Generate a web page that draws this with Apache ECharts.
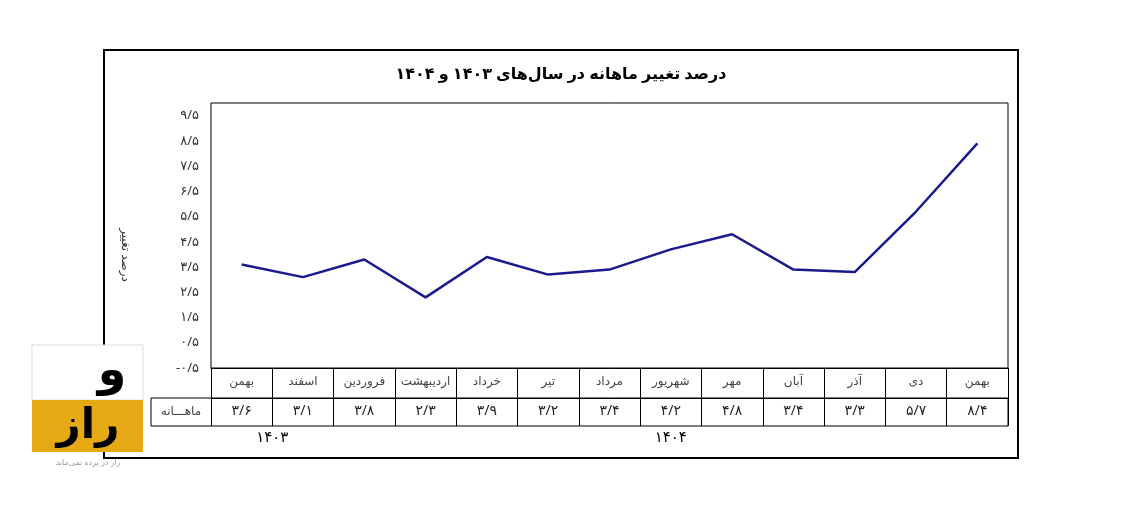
<!DOCTYPE html>
<html>
<head>
<meta charset="utf-8">
<script src="https://cdn.jsdelivr.net/npm/echarts@6/dist/echarts.min.js"></script>
<style>html,body{margin:0;padding:0;background:#fff}#chart{width:1131px;height:508px}</style>
</head>
<body>
<div id="chart"></div>
<script>
var months = ['بهمن', 'اسفند', 'فروردین', 'اردیبهشت', 'خرداد', 'تیر', 'مرداد', 'شهریور', 'مهر', 'آبان', 'آذر', 'دی', 'بهمن'];
var values = [3.6, 3.1, 3.8, 2.3, 3.9, 3.2, 3.4, 4.2, 4.8, 3.4, 3.3, 5.7, 8.4];
var years = [{ label: '۱۴۰۳', from: 0, to: 1 }, { label: '۱۴۰۴', from: 2, to: 12 }];

var fa = '۰۱۲۳۴۵۶۷۸۹';
function toFa(v) {
    return String(v).replace(/\d/g, function (d) { return fa[+d]; }).replace('.', '/');
}
function fmt(v) {
    var s = Math.abs(v).toFixed(1);
    return (v < 0 ? '-' : '') + toFa(s);
}

var chart = echarts.init(document.getElementById('chart'));
var font = '"Noto Sans", "DejaVu Sans", sans-serif';
var gl = 211, gr = 1008, cellW = (gr - gl) / months.length;

var yearTexts = years.map(function (y) {
    var cx = gl + cellW * (y.from + y.to + 1) / 2;
    return { type: 'text', x: cx, y: 438, style: { text: y.label, fontSize: 15, fontFamily: font, fill: '#000', align: 'center', verticalAlign: 'middle' } };
});

chart.setOption({
    animation: false,
    textStyle: { fontFamily: font },
    grid: { left: gl, right: 1131 - gr, top: 103, bottom: 508 - 368, show: true, borderColor: '#000', borderWidth: 1 },
    xAxis: [{
        type: 'category', data: months, position: 'bottom',
        axisLine: { onZero: false, lineStyle: { color: '#000', width: 1 } },
        axisTick: { show: true, interval: 0, length: 58, lineStyle: { color: '#000' } },
        axisLabel: { interval: 0, color: '#444', fontSize: 12, margin: 8 }
    }, {
        type: 'category', data: values.map(fmt), position: 'bottom', offset: 30,
        axisLine: { onZero: false, lineStyle: { color: '#000', width: 1 } },
        axisTick: { show: false },
        axisLabel: { interval: 0, color: '#222', fontSize: 14, margin: 6 }
    }],
    yAxis: {
        type: 'value', min: -0.5, max: 10, interval: 1,
        axisLine: { show: false }, axisTick: { show: false }, splitLine: { show: false },
        axisLabel: { color: '#333', fontSize: 13, margin: 12, formatter: function (v) { return v > 9.6 ? '' : fmt(v); } }
    },
    series: [{
        type: 'line', data: values, xAxisIndex: 0, symbol: 'none',
        lineStyle: { color: '#1a1a8c', width: 2.5 }
    }],
    graphic: [
        { type: 'rect', shape: { x: 104, y: 50, width: 914, height: 408 }, style: { fill: 'none', stroke: '#000', lineWidth: 2 }, z: -1 },
        { type: 'text', x: 561, y: 74, style: { text: 'درصد تغییر ماهانه در سال‌های ۱۴۰۳ و ۱۴۰۴', fontSize: 16, fontWeight: 'bold', fontFamily: font, fill: '#000', align: 'center', verticalAlign: 'middle' } },
        { type: 'text', x: 125, y: 255, rotation: -Math.PI / 2, style: { text: 'درصد تغییر', fontSize: 12, fontFamily: font, fill: '#333', align: 'center', verticalAlign: 'middle' } },
        { type: 'rect', shape: { x: 151, y: 398, width: gr - 151, height: 28 }, style: { fill: 'none', stroke: '#000', lineWidth: 1 } },
        { type: 'text', x: 181, y: 412, style: { text: 'ماهـــانه', fontSize: 12, fontFamily: font, fill: '#444', align: 'center', verticalAlign: 'middle' } },
        { type: 'rect', shape: { x: 32, y: 345, width: 111, height: 55 }, style: { fill: '#fff', stroke: '#ddd' } },
        { type: 'rect', shape: { x: 32, y: 400, width: 111, height: 52 }, style: { fill: '#e5a913' } },
        { type: 'text', x: 112, y: 372, style: { text: 'و', fontSize: 46, fontWeight: 'bold', fontFamily: font, fill: '#000', align: 'center', verticalAlign: 'middle' } },
        { type: 'text', x: 88, y: 426, style: { text: 'راز', fontSize: 42, fontWeight: 'bold', fontFamily: font, fill: '#000', align: 'center', verticalAlign: 'middle' } },
        { type: 'text', x: 88, y: 463, style: { text: 'راز در پرده نمی‌ماند', fontSize: 8, fontFamily: font, fill: '#999', align: 'center', verticalAlign: 'middle' } }
    ].concat(yearTexts)
});
</script>
</body>
</html>
